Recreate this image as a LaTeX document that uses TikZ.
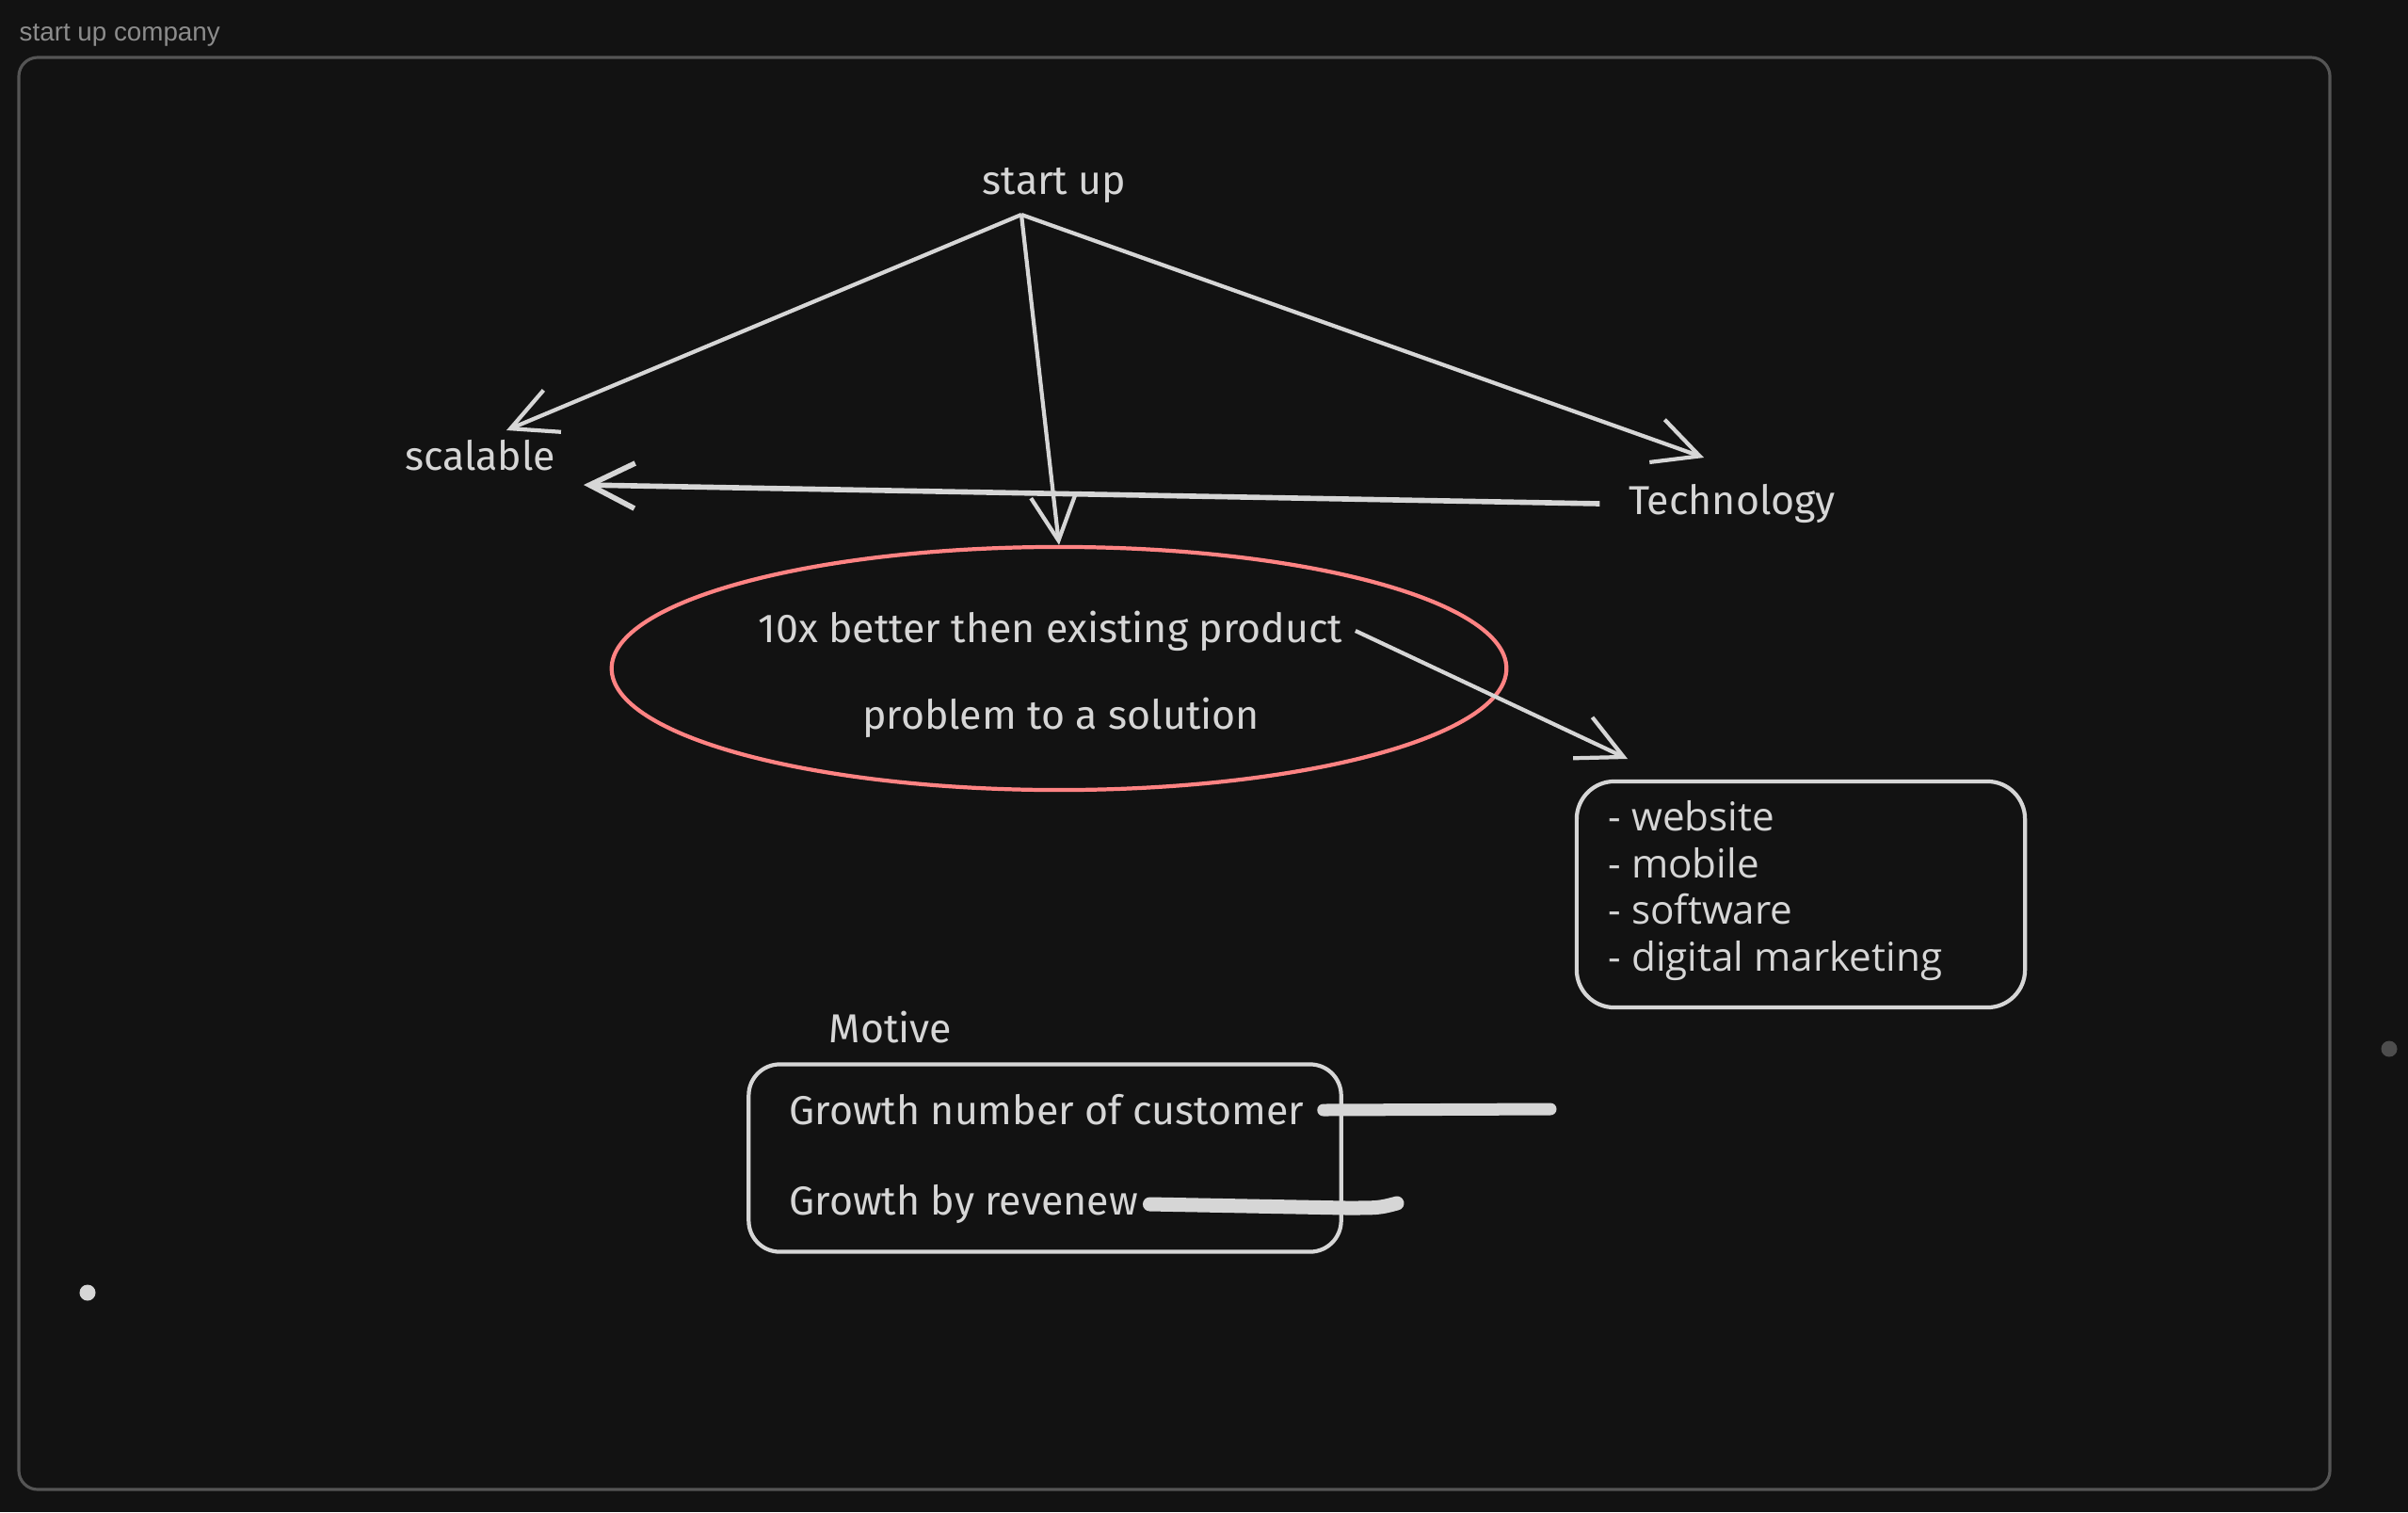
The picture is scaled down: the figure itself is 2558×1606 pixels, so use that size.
\documentclass[tikz,border=0pt]{standalone}
\usepackage{fontspec}
\usepackage{xcolor}
\usetikzlibrary{arrows.meta,positioning,shapes.geometric}
\newfontfamily\uifont{Liberation Sans}
\newfontfamily\handfont{Fira Sans}
\newfontfamily\notefont{Open Sans}
\definecolor{bg}{HTML}{121212}
\definecolor{ink}{HTML}{D6D6D6}
\definecolor{framec}{HTML}{555555}
\definecolor{ttl}{HTML}{8C8C8C}
\definecolor{salmon}{HTML}{FF8383}
\definecolor{dotg}{HTML}{4D4D4D}
\begin{document}
\begin{tikzpicture}[x=0.01cm, y=-0.01cm, every node/.style={align=center, text=ink}]
\tikzset{
  hand/.style={font=\handfont\fontsize{12.2}{14}\selectfont, inner sep=0pt},
  note/.style={font=\notefont\fontsize{12}{14.2}\selectfont, inner sep=0pt, align=left},
  lnk/.style={draw=ink, line width=1.2pt, -{Straight Barb[length=4.8mm, width=4.8mm]}},
  card/.style={draw=ink, line width=1.2pt, rounded corners=0.4cm},
  bubble/.style={draw=salmon, line width=1.2pt, ellipse, minimum width=9.5cm, minimum height=2.58cm}
}
\fill[bg] (0,0) rectangle (2558,1606);
\useasboundingbox (0,0) rectangle (2558,1606);
% outer frame and caption
\draw[framec, line width=0.9pt, rounded corners=0.2cm] (20,61) rectangle (2475,1582);
\node[anchor=west, font=\uifont\fontsize{7.9}{9}\selectfont, text=ttl, inner sep=0pt] (title) at (20,37) {start up company};
% top part
\node[hand] (start) at (1120,197) {start up};
\node[hand] (scal) at (510,484) {scalable};
\node[hand] (tech) at (1840,535) {Technology};
\node[bubble] (idea) at (1125,710) {};
\node[hand] (better) at (1116,670) {10x better then existing product};
\node[hand] (solve) at (1127,762) {problem to a solution};
\node[card, minimum width=4.76cm, minimum height=2.4cm] (techbox) at (1913,950) {};
\node[note, anchor=west] (list) at (1708,946) {- website\\- mobile\\- software\\- digital marketing};
% motive part
\node[hand] (motive) at (946,1091) {Motive};
\node[card, rounded corners=0.33cm, minimum width=6.29cm, minimum height=1.99cm] (motbox) at (1110,1230) {};
\node[hand, anchor=west] (grow1) at (838,1179) {Growth number of customer};
\node[hand, anchor=west] (grow2) at (838,1279) {Growth by revenew};
% arrow ends
\coordinate (hub) at (1085,228);
\coordinate (scaltip) at (538,457);
\coordinate (techtip) at (1810,486);
\coordinate (scalhead) at (620,515);
\coordinate (boxtip) at (1729,806);
\draw[lnk] (hub) -- (scaltip);
\draw[lnk] (hub) -- (idea.north);
\draw[lnk] (hub) -- (techtip);
\draw[lnk, line width=1.6pt] ([xshift=-0.3cm]tech.west) -- (scalhead);
\draw[lnk] ([xshift=0.13cm]better.east) -- (boxtip);
% marker strokes
\draw[ink, line width=0.13cm, line cap=round] ([xshift=0.2cm]grow1.east) -- (1647,1178);
\draw[ink, line width=0.15cm, line cap=round] ([xshift=0.12cm]grow2.east) -- (1430,1283) .. controls (1465,1283) .. (1484,1278);
% dots
\fill[ink] (93,1373) circle (0.085cm);
\fill[dotg] (2538,1114) circle (0.085cm);
\end{tikzpicture}
\end{document}
